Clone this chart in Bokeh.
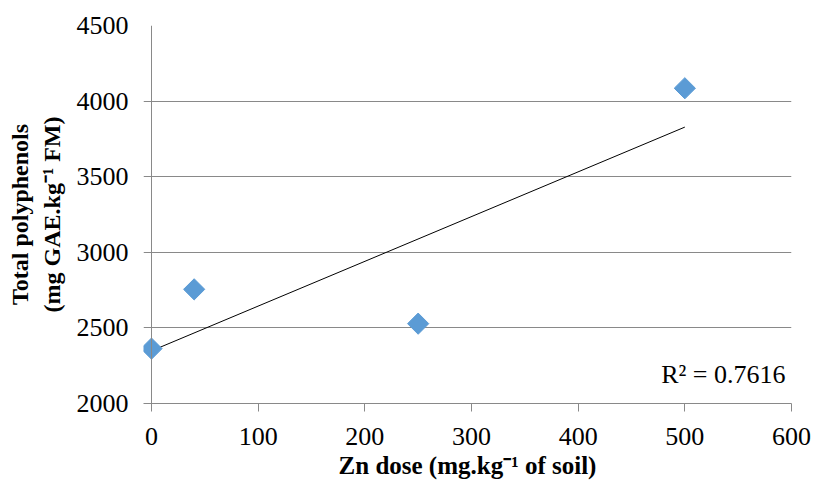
import numpy as np
from bokeh.plotting import figure
from bokeh.models import Range1d, FixedTicker, Label, Span
from bokeh.embed import file_html
from bokeh.resources import INLINE

# Data
zn_dose = [0, 40, 250, 500]
polyphenols = [2363, 2755, 2528, 4085]
x_ticks = [0, 100, 200, 300, 400, 500, 600]
y_ticks = [2000, 2500, 3000, 3500, 4000, 4500]
r2_text = "R\u00b2 = 0.7616"
x_title = "Zn dose (mg.kg\u207b\u00b9 of soil)"
y_title = "Total polyphenols\n(mg GAE.kg\u207b\u00b9 FM)"

FONT = "Liberation Serif"
GREY = "#898989"

p = figure(frame_width=648, frame_height=378,
           min_border_left=143, min_border_right=23,
           min_border_top=25, min_border_bottom=82,
           x_range=Range1d(-7.5, 600), y_range=Range1d(2000, 4500),
           output_backend="svg", toolbar_location=None,
           background_fill_color="white", border_fill_color="white")
p.outline_line_color = None
p.xgrid.grid_line_color = None
p.ygrid.ticker = FixedTicker(ticks=y_ticks)
p.ygrid.grid_line_color = GREY
p.ygrid.grid_line_width = 1

for ax, ticks in ((p.xaxis[0], x_ticks), (p.yaxis[0], y_ticks)):
    ax.ticker = FixedTicker(ticks=ticks)
    ax.minor_tick_line_color = None
    ax.major_label_text_font = FONT
    ax.major_label_text_font_size = "26px"
    ax.major_label_text_color = "black"
    ax.axis_label_text_font = FONT
    ax.axis_label_text_font_style = "bold"
    ax.axis_label_text_color = "black"

xa = p.xaxis[0]
xa.axis_line_color = GREY
xa.major_tick_line_color = GREY
xa.major_tick_in = 0
xa.major_tick_out = 8
xa.major_label_standoff = 16
xa.axis_label = x_title
xa.axis_label_text_font_size = "25px"
xa.axis_label_standoff = 4

ya = p.yaxis[0]
ya.axis_line_color = None
ya.major_tick_line_color = None
ya.major_tick_in = 0
ya.major_tick_out = 0
ya.major_label_standoff = 15
ya.axis_label = y_title
ya.axis_label_text_font_size = "24px"
ya.axis_label_text_line_height = 1.23
ya.axis_label_standoff = 9

# vertical axis line at x = 0
p.add_layout(Span(location=0, dimension="height", line_color=GREY, line_width=1))

# trendline (least squares from data)
slope, intercept = np.polyfit(zn_dose, polyphenols, 1)
tx = np.array([min(zn_dose), max(zn_dose)])
p.line(tx, slope * tx + intercept, line_color="black", line_width=1)

p.scatter(zn_dose, polyphenols, marker="square", angle=np.pi / 4, size=15,
          fill_color="#5B9BD5", line_color="#5B9BD5")

p.add_layout(Label(x=594.4, y=2190, text=r2_text, text_font=FONT,
                   text_font_size="26px", text_align="right",
                   text_baseline="alphabetic", text_color="black"))

open("out.html", "w").write(file_html(p, INLINE))
